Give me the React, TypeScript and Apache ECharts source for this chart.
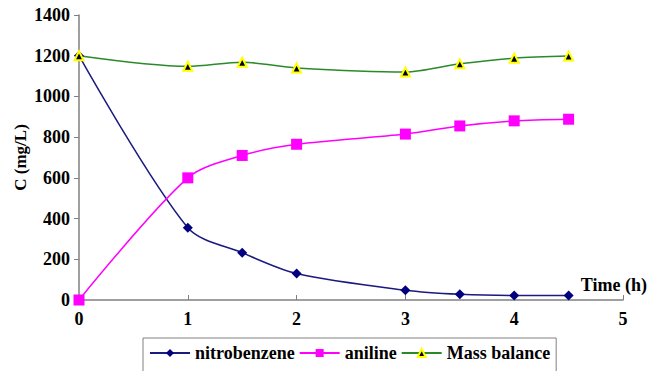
import React, { useEffect, useRef } from "react";
import * as echarts from "echarts";

const timeH = [0, 1, 1.5, 2, 3, 3.5, 4, 4.5];
const nitrobenzene = [1200, 355, 232, 130, 48, 28, 22, 22];
const aniline = [0, 600, 710, 765, 815, 855, 880, 888];
const massBalance = [1200, 1148, 1168, 1140, 1120, 1160, 1188, 1198];

const FONT = "'Liberation Serif', 'DejaVu Serif', 'Times New Roman', serif";

export default function App() {
  const ref = useRef<HTMLDivElement>(null);
  useEffect(() => {
    if (!ref.current) return;
    const chart = echarts.init(ref.current, null, { renderer: "svg" });
    const pair = (ys: number[]) => timeH.map((x, i) => [x, ys[i]]);
    const labelStyle = { fontFamily: FONT, fontWeight: "bold", fontSize: 18, color: "#000" };
    chart.setOption({
      animation: false,
      backgroundColor: "#fff",
      textStyle: { fontFamily: FONT },
      grid: { left: 79, right: 38, top: 15, bottom: 71 },
      xAxis: {
        type: "value",
        min: 0,
        max: 5,
        interval: 1,
        name: "Time (h)",
        nameLocation: "end",
        nameGap: 24,
        nameTextStyle: {
          ...labelStyle,
          align: "right",
          verticalAlign: "bottom",
          padding: [0, 0, 6, 0],
        },
        splitLine: { show: false },
        axisLine: { lineStyle: { color: "#808080", width: 1.5 } },
        axisTick: { show: true, inside: true, length: 5, lineStyle: { color: "#808080" } },
        axisLabel: { ...labelStyle, margin: 10, formatter: (v: number) => String(v) },
      },
      yAxis: {
        type: "value",
        min: 0,
        max: 1400,
        interval: 200,
        name: "C (mg/L)",
        nameLocation: "middle",
        nameRotate: 90,
        nameGap: 50,
        nameMoveOverlap: false,
        nameTextStyle: { ...labelStyle, fontSize: 17 },
        splitLine: { show: false },
        axisLine: { show: true, lineStyle: { color: "#808080", width: 1.5 } },
        axisTick: { show: true, inside: false, length: 5, lineStyle: { color: "#808080" } },
        axisLabel: { ...labelStyle, margin: 9, formatter: (v: number) => String(v) },
      },
      legend: {
        left: 143,
        top: 338,
        orient: "horizontal",
        borderColor: "#808080",
        borderWidth: 1,
        padding: [6, 6, 10, 6],
        itemGap: 4,
        itemWidth: 40,
        itemHeight: 10,
        textStyle: { fontFamily: FONT, fontWeight: "bold", fontSize: 18, color: "#000" },
        data: ["nitrobenzene", "aniline", "Mass balance"],
      },
      series: [
        {
          name: "nitrobenzene",
          type: "line",
          data: pair(nitrobenzene),
          smooth: 0.3,
          symbol: "diamond",
          symbolSize: 10,
          lineStyle: { color: "#1a1a80", width: 1.5 },
          itemStyle: { color: "#000080" },
        },
        {
          name: "aniline",
          type: "line",
          data: pair(aniline),
          smooth: 0.3,
          symbol: "rect",
          symbolSize: 11,
          lineStyle: { color: "#ff00ff", width: 1.5 },
          itemStyle: { color: "#ff00ff" },
        },
        {
          name: "Mass balance",
          type: "line",
          data: pair(massBalance),
          smooth: 0.3,
          symbol: "triangle",
          symbolSize: 9,
          lineStyle: { color: "#2a8a2a", width: 1.5 },
          itemStyle: { color: "#000000", borderColor: "#ffff00", borderWidth: 2 },
        },
      ],
    });
    return () => chart.dispose();
  }, []);
  return (
    <div
      ref={ref}
      style={{ position: "fixed", left: 0, top: 0, width: 661, height: 371, background: "#fff" }}
    />
  );
}
